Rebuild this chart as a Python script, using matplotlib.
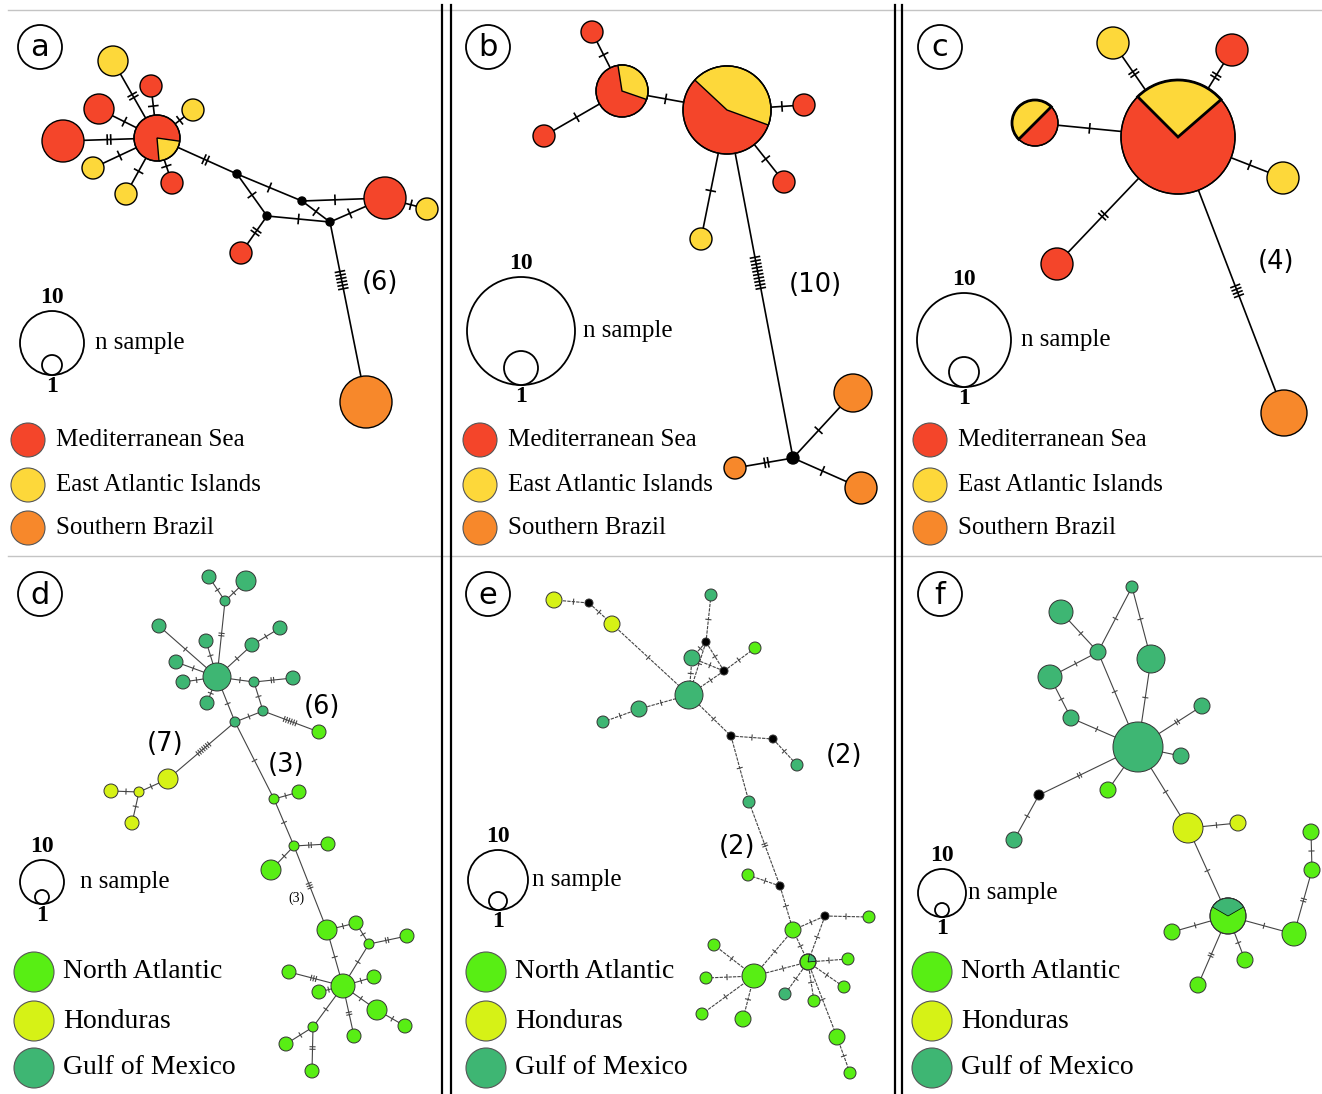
import matplotlib
matplotlib.use("Agg")
import matplotlib.pyplot as plt
from matplotlib.patches import Circle, Wedge
import numpy as np

W, H = 1322, 1094

COLORS = {
    "M": "#f4452a",  # Mediterranean Sea
    "E": "#fdd83a",  # East Atlantic Islands
    "S": "#f7882b",  # Southern Brazil
    "N": "#58ee14",  # North Atlantic
    "H": "#d6f216",  # Honduras
    "G": "#3eb673",  # Gulf of Mexico
    "x": "#000000",  # median vector
}

TOP_GROUPS = ["Mediterranean Sea", "East Atlantic Islands", "Southern Brazil"]
TOP_KEYS = ["M", "E", "S"]
BOTTOM_GROUPS = ["North Atlantic", "Honduras", "Gulf of Mexico"]
BOTTOM_KEYS = ["N", "H", "G"]

# ---- panel a ----
A_X = [157, 63, 113, 151, 99, 193, 93, 126, 172, 237, 302, 267, 330, 385, 427, 241, 366]
A_Y = [138, 141, 61, 86, 109, 110, 168, 194, 183, 174, 201, 216, 222, 198, 209, 253, 402]
A_R = [23, 21, 15, 11, 15, 11, 11, 11, 11, 4, 4, 4, 4, 21, 11, 11, 26]
A_G = ["M", "M", "E", "M", "M", "E", "E", "E", "M", "x", "x", "x", "x", "M", "E", "M", "S"]
A_PIES = {0: ("E", -85, -8)}
A_EDGES = [(0, 1, 2), (0, 2, 2), (0, 3, 1), (0, 4, 1), (0, 5, 1), (0, 6, 1), (0, 7, 1),
           (0, 8, 1), (0, 9, 2), (9, 10, 1), (9, 11, 1), (10, 13, 1), (10, 12, 1),
           (11, 12, 1), (12, 13, 1), (13, 14, 1), (11, 15, 2), (12, 16, 6, 0.36)]
A_NOTES = [("(6)", 380, 283)]

# ---- panel b ----
B_X = [592, 622, 544, 727, 804, 784, 701, 793, 853, 861, 735]
B_Y = [32, 91, 136, 110, 105, 182, 239, 458, 393, 488, 468]
B_R = [11, 26, 11, 44, 11, 11, 11, 6, 19, 16, 11]
B_G = ["M", "M", "M", "M", "M", "M", "E", "x", "S", "S", "S"]
B_PIES = {1: ("E", -19, 99), 3: ("E", -20, 137)}
B_EDGES = [(0, 1, 1), (1, 2, 1), (1, 3, 1), (3, 4, 1), (3, 5, 1), (3, 6, 1),
           (3, 7, 10, 0.4), (7, 8, 1), (7, 9, 1), (7, 10, 2)]
B_NOTES = [("(10)", 815, 285)]

# ---- panel c ----
C_X = [1178, 1035, 1113, 1232, 1283, 1057, 1284]
C_Y = [137, 123, 43, 50, 178, 264, 413]
C_R = [57, 23, 16, 16, 16, 16, 23]
C_G = ["M", "M", "E", "M", "E", "M", "S"]
C_PIES = {0: ("E", 41, 135), 1: ("E", 45, 225)}
C_EDGES = [(0, 1, 1), (0, 2, 2), (0, 3, 2), (0, 4, 1), (0, 5, 2), (0, 6, 4)]
C_NOTES = [("(4)", 1276, 262)]

# ---- panel d ----
D_X = [209, 246, 225, 159, 206, 252, 280, 176, 217, 183, 207, 254, 293, 263, 235, 319,
       168, 139, 111, 132, 274, 299, 294, 328, 271, 327, 356, 369, 407, 343, 289, 319,
       374, 377, 405, 354, 313, 286, 312]
D_Y = [577, 581, 601, 626, 641, 645, 628, 662, 677, 682, 703, 682, 678, 711, 722, 732,
       779, 792, 791, 823, 799, 792, 846, 844, 870, 930, 923, 944, 936, 986, 972, 992,
       977, 1010, 1026, 1036, 1027, 1044, 1071]
D_R = [7, 10, 5, 7, 7, 7, 7, 7, 14, 7, 7, 5, 7, 5, 5, 7,
       10, 5, 7, 7, 5, 7, 5, 7, 10, 10, 7, 5, 7, 12, 7, 7,
       7, 10, 7, 7, 5, 7, 7]
D_G = ["G"] * 15 + ["N"] + ["H"] * 4 + ["N"] * 19
D_PIES = {}
D_EDGES = [(2, 0, 1), (2, 1, 1), (2, 8, 2), (3, 8, 1), (4, 8, 1), (5, 8, 1), (5, 6, 1),
           (7, 8, 1), (9, 8, 1), (10, 8, 1), (8, 11, 1), (11, 12, 2), (11, 13, 1),
           (13, 14, 1), (8, 14, 1), (13, 15, 6), (14, 16, 7), (16, 17, 1), (17, 18, 1),
           (17, 19, 1), (14, 20, 1), (20, 21, 1), (20, 22, 1), (22, 23, 2), (22, 24, 1),
           (22, 25, 3), (25, 26, 1), (26, 27, 1), (27, 28, 2), (27, 29, 1), (25, 29, 1),
           (29, 30, 3), (29, 31, 1), (29, 32, 1), (29, 33, 1), (33, 34, 1), (29, 35, 2),
           (29, 36, 1), (36, 37, 1), (36, 38, 2)]
D_NOTES = [("(6)", 322, 707), ("(7)", 165, 744), ("(3)", 286, 765)]
D_SMALL_NOTES = [("(3)", 296, 898)]

# ---- panel e ----
E_X = [554, 589, 612, 711, 706, 692, 755, 724, 689, 639, 603, 731, 773, 797, 749, 748,
       780, 793, 825, 869, 808, 714, 754, 706, 702, 743, 785, 814, 848, 844, 837, 850]
E_Y = [600, 603, 624, 595, 642, 658, 648, 671, 695, 709, 722, 736, 739, 765, 802, 875,
       886, 930, 916, 917, 962, 945, 976, 978, 1014, 1019, 994, 1001, 959, 987, 1037, 1073]
E_R = [8, 4, 8, 6, 4, 8, 6, 4, 14, 8, 6, 4, 4, 6, 6, 6,
       4, 8, 4, 6, 8, 6, 12, 6, 6, 8, 6, 6, 6, 6, 8, 6]
E_G = ["H", "x", "H", "G", "x", "G", "N", "x", "G", "G", "G", "x", "x", "G", "G", "N",
       "x", "N", "x", "N", "N", "N", "N", "N", "N", "N", "G", "N", "N", "N", "N", "N"]
E_PIES = {20: ("G", 5, 80)}
E_EDGES = [(0, 1, 1), (1, 2, 1), (2, 8, 1), (3, 4, 1), (4, 5, 1), (4, 7, 1), (5, 7, 1),
           (4, 8, 1), (7, 8, 1), (5, 8, 1), (6, 7, 1), (8, 9, 1), (9, 10, 1), (8, 11, 1),
           (11, 12, 1), (12, 13, 1), (11, 14, 1), (14, 16, 2), (15, 16, 1), (16, 17, 1),
           (17, 18, 1), (18, 19, 1), (18, 20, 1), (17, 22, 1), (17, 20, 1), (20, 22, 1),
           (22, 21, 1), (22, 23, 1), (22, 24, 1), (22, 25, 1), (20, 26, 1), (20, 27, 1),
           (20, 28, 1), (20, 29, 1), (20, 30, 1), (30, 31, 1)]
E_NOTES = [("(2)", 844, 756), ("(2)", 737, 847)]

# ---- panel f ----
F_X = [1132, 1061, 1098, 1151, 1050, 1071, 1202, 1138, 1181, 1108, 1039, 1014, 1188,
       1238, 1311, 1312, 1294, 1228, 1172, 1245, 1198]
F_Y = [587, 612, 652, 659, 677, 718, 706, 747, 756, 790, 795, 840, 828,
       823, 832, 870, 934, 916, 932, 960, 985]
F_R = [6, 12, 8, 14, 12, 8, 8, 25, 8, 8, 5, 8, 15, 8, 8, 8, 12, 18, 8, 8, 8]
F_G = ["G", "G", "G", "G", "G", "G", "G", "G", "G", "N", "x", "G", "H",
       "H", "N", "N", "N", "N", "N", "N", "N"]
F_PIES = {17: ("G", 30, 150)}
F_EDGES = [(0, 2, 1), (0, 3, 1), (1, 2, 1), (2, 4, 1), (2, 7, 1), (4, 5, 1), (5, 7, 1),
           (3, 7, 1), (7, 6, 2), (7, 8, 0), (7, 9, 0), (7, 10, 2), (10, 11, 1),
           (7, 12, 1), (12, 13, 1), (12, 17, 1), (17, 18, 1), (17, 19, 1), (17, 20, 2),
           (17, 16, 1), (16, 15, 2), (15, 14, 1)]


def draw_edges(ax, xs, ys, rs, edges, color, lw, tick_len, tick_gap, ls="-"):
    for e in edges:
        i, j, n = e[0], e[1], e[2]
        t = e[3] if len(e) > 3 else 0.5
        p1 = np.array([xs[i], ys[i]], float)
        p2 = np.array([xs[j], ys[j]], float)
        ax.plot([p1[0], p2[0]], [p1[1], p2[1]], color=color, lw=lw, ls=ls,
                zorder=1, solid_capstyle="butt")
        u = (p2 - p1) / np.linalg.norm(p2 - p1)
        nv = np.array([-u[1], u[0]])
        a = p1 + u * rs[i]
        b = p2 - u * rs[j]
        mid = a + (b - a) * t
        for k in range(n):
            c = mid + u * (k - (n - 1) / 2) * tick_gap
            q1 = c + nv * tick_len / 2
            q2 = c - nv * tick_len / 2
            ax.plot([q1[0], q2[0]], [q1[1], q2[1]], color=color, lw=lw, zorder=1)


def draw_nodes(ax, xs, ys, rs, gs, pies, ec, lw, pie_lw):
    for k, (x, y, r, g) in enumerate(zip(xs, ys, rs, gs)):
        ax.add_patch(Circle((x, y), r, facecolor=COLORS[g], edgecolor=ec, lw=lw, zorder=3))
        if k in pies:
            g2, a1, a2 = pies[k]
            # visual angles (counter-clockwise, y up) -> inverted y axis
            ax.add_patch(Wedge((x, y), r, -a2, -a1, facecolor=COLORS[g2],
                               edgecolor="black", lw=pie_lw, zorder=4))
            ax.add_patch(Circle((x, y), r, facecolor="none", edgecolor=ec, lw=lw, zorder=5))


def panel_label(ax, x, y, letter):
    ax.add_patch(Circle((x, y), 22, facecolor="white", edgecolor="black", lw=1.3, zorder=3))
    ax.text(x, y + 1, letter, ha="center", va="center", fontsize=22,
            family="DejaVu Sans", zorder=4)


def size_legend(ax, cx, cy, R, r, fs, ns_x):
    ax.add_patch(Circle((cx, cy), R, facecolor="white", edgecolor="black", lw=1.3, zorder=3))
    ax.add_patch(Circle((cx, cy + R - r), r, facecolor="white", edgecolor="black",
                        lw=1.3, zorder=4))
    ax.text(cx, cy - R - 3, "10", ha="center", va="bottom", fontsize=fs,
            fontweight="bold", family="Liberation Serif")
    ax.text(cx, cy + R + 1, "1", ha="center", va="top", fontsize=fs,
            fontweight="bold", family="Liberation Serif")
    ax.text(ns_x, cy, "n sample", ha="left", va="center", fontsize=18,
            family="Liberation Serif")


def color_legend(ax, x, ys, r, keys, names, tx, fs):
    for y, k, name in zip(ys, keys, names):
        ax.add_patch(Circle((x, y), r, facecolor=COLORS[k], edgecolor="#555555",
                            lw=0.8, zorder=3))
        ax.text(tx, y, name, ha="left", va="center", fontsize=fs,
                family="Liberation Serif")


def notes(ax, items, fs, family="DejaVu Sans"):
    for s, x, y in items:
        ax.text(x, y, s, ha="center", va="center", fontsize=fs, family=family)


if __name__ == "__main__":
    fig = plt.figure(figsize=(W / 100, H / 100), dpi=100)
    ax = fig.add_axes([0, 0, 1, 1])
    ax.set_xlim(0, W)
    ax.set_ylim(H, 0)
    ax.axis("off")

    # frame lines
    for y in (10, 556):
        ax.plot([8, W], [y, y], color="#c4c4c4", lw=1.0, zorder=0)
    for x in (442, 451, 895, 902):
        ax.plot([x, x], [5, H], color="black", lw=1.6, zorder=0)

    # top row
    top = [(A_X, A_Y, A_R, A_G, A_PIES, A_EDGES), (B_X, B_Y, B_R, B_G, B_PIES, B_EDGES),
           (C_X, C_Y, C_R, C_G, C_PIES, C_EDGES)]
    for k, (xs, ys, rs, gs, pies, edges) in enumerate(top):
        draw_edges(ax, xs, ys, rs, edges, "black", 1.2, 9, 3.5)
        draw_nodes(ax, xs, ys, rs, gs, pies, "black", 1.0, 2.0 if k == 2 else 1.0)
    notes(ax, A_NOTES + B_NOTES + C_NOTES, 18.5)

    # bottom row
    bottom = [(D_X, D_Y, D_R, D_G, D_PIES, D_EDGES, "-"),
              (E_X, E_Y, E_R, E_G, E_PIES, E_EDGES, (0, (3, 1))),
              (F_X, F_Y, F_R, F_G, F_PIES, F_EDGES, "-")]
    for xs, ys, rs, gs, pies, edges, ls in bottom:
        draw_edges(ax, xs, ys, rs, edges, "#444444", 0.8, 5, 2.5, ls=ls)
        draw_nodes(ax, xs, ys, rs, gs, pies, "#333333", 0.7, 0.5)
    notes(ax, D_NOTES + E_NOTES, 18.5)
    notes(ax, D_SMALL_NOTES, 10, family="Liberation Serif")

    for x, y, s in [(40, 47, "a"), (488, 47, "b"), (940, 47, "c"),
                    (40, 594, "d"), (488, 594, "e"), (940, 594, "f")]:
        panel_label(ax, x, y, s)

    size_legend(ax, 52, 343, 32, 10, 17, 95)
    size_legend(ax, 521, 331, 54, 17, 17, 583)
    size_legend(ax, 964, 340, 47, 15, 17, 1021)
    size_legend(ax, 42, 882, 22, 7, 17, 80)
    size_legend(ax, 498, 880, 30, 9, 17, 532)
    size_legend(ax, 942, 893, 24, 7, 17, 968)

    for x in (28, 480, 930):
        color_legend(ax, x, [440, 485, 528], 17, TOP_KEYS, TOP_GROUPS, x + 28, 18)
    for x in (34, 486, 932):
        color_legend(ax, x, [972, 1021, 1068], 20, BOTTOM_KEYS, BOTTOM_GROUPS, x + 29, 20)

    fig.savefig("out.png", dpi=100)
